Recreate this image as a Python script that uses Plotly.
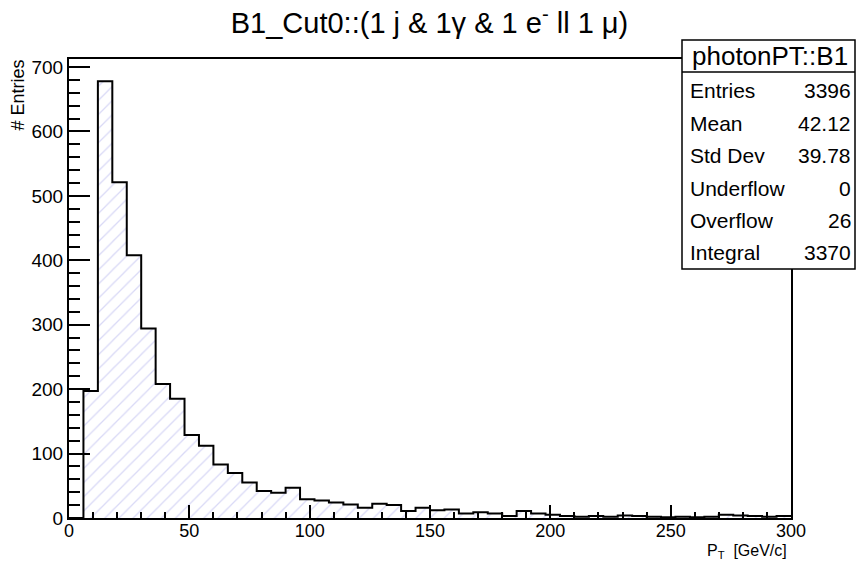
import plotly.graph_objects as go

# ---- data ----
bin_edges_start = 0
bin_width = 6
counts = [0, 197, 678, 521, 408, 294, 208, 185, 129, 112,
          83, 70, 55, 42, 39, 47, 29, 27, 24, 21,
          16, 22, 20, 11, 16, 12, 13, 7, 9, 7,
          3, 11, 7, 5, 3, 2, 3, 2, 4, 3,
          2, 1, 2, 1, 2, 5, 4, 3, 2, 3]
x_tick_vals = [0, 50, 100, 150, 200, 250, 300]
y_tick_vals = [0, 100, 200, 300, 400, 500, 600, 700]
title_text = "B1_Cut0::(1 j & 1γ & 1 e<sup>-</sup> ll 1 μ)"
stats_title = "photonPT::B1"
stats_labels = ["Entries", "Mean", "Std Dev", "Underflow", "Overflow", "Integral"]
stats_values = ["3396", "42.12", "39.78", "0", "26", "3370"]

centers = [bin_edges_start + bin_width * (i + 0.5) for i in range(len(counts))]
edges = [bin_edges_start + bin_width * i for i in range(len(counts) + 1)]
step_y = counts + [counts[-1]]

FONT = "Liberation Sans, Arial, Helvetica, sans-serif"
W, H = 859, 561
L, R, T, B = 69, 791, 59, 518

def px(x):
    return (x - L) / (R - L)

def py(y):
    return (B - y) / (B - T)

fig = go.Figure()
fig.add_trace(go.Bar(
    x=centers, y=counts, width=bin_width,
    marker=dict(color="white", line=dict(width=0),
                pattern=dict(shape="/", fgcolor="#b4b4ee", bgcolor="white",
                             size=10, solidity=0.13, fillmode="overlay")),
    showlegend=False, hoverinfo="skip"))
fig.add_trace(go.Scatter(
    x=edges, y=step_y, mode="lines", line=dict(color="black", width=2, shape="hv"),
    showlegend=False, hoverinfo="skip"))

fig.update_layout(
    width=W, height=H,
    margin=dict(l=L, r=W - R, t=T, b=H - B, pad=0),
    paper_bgcolor="white", plot_bgcolor="white",
    bargap=0,
    font=dict(family=FONT, color="black", size=19),
    title=dict(text=title_text, x=0.5, xref="container", xanchor="center",
               y=1 - 23 / H, yref="container", yanchor="middle",
               font=dict(family=FONT, size=29, color="black")),
)
fig.update_xaxes(
    range=[0, 300], tickvals=x_tick_vals, ticks="inside", ticklen=13, tickwidth=1.5,
    tickcolor="black", showgrid=False, zeroline=False,
    showline=True, linecolor="black", linewidth=2, mirror=True,
    minor=dict(ticks="inside", ticklen=6, dtick=10, tickwidth=1.5, tickcolor="black", showgrid=False),
    tickfont=dict(size=18, family=FONT), ticklabelstandoff=-5,
)
fig.update_yaxes(
    range=[0, 712.4], tickvals=y_tick_vals, ticks="inside", ticklen=21, tickwidth=1.5,
    tickcolor="black", showgrid=False, zeroline=False,
    showline=True, linecolor="black", linewidth=2, mirror=True,
    minor=dict(ticks="inside", ticklen=11, dtick=20, tickwidth=1.5, tickcolor="black", showgrid=False),
    tickfont=dict(size=19, family=FONT),
)

# axis titles
fig.add_annotation(text="# Entries", xref="paper", yref="paper",
                   x=px(18), y=py(57), xanchor="center", yanchor="top",
                   textangle=-90, showarrow=False, font=dict(size=18, family=FONT))
fig.add_annotation(text="P<sub>T</sub>  [GeV/c]", xref="paper", yref="paper",
                   x=px(789), y=py(551), xanchor="right", yanchor="middle",
                   showarrow=False, font=dict(size=16, family=FONT))

# stats box
bx0, bx1, by0, by1, bsep = 682, 855, 40, 269, 72
fig.add_shape(type="rect", xref="paper", yref="paper",
              x0=px(bx0), x1=px(bx1), y0=py(by1), y1=py(by0),
              fillcolor="white", line=dict(color="black", width=1.5), layer="above")
fig.add_shape(type="line", xref="paper", yref="paper",
              x0=px(bx0), x1=px(bx1), y0=py(bsep), y1=py(bsep),
              line=dict(color="black", width=1.5), layer="above")
fig.add_annotation(text=stats_title, xref="paper", yref="paper",
                   x=px((bx0 + bx1) / 2 + 1), y=py(56), xanchor="center", yanchor="middle",
                   showarrow=False, font=dict(size=26, family=FONT))
row_y = [90, 123, 156, 188, 220, 252]
for lab, val, yy in zip(stats_labels, stats_values, row_y):
    fig.add_annotation(text=lab, xref="paper", yref="paper", x=px(688), y=py(yy),
                       xanchor="left", yanchor="middle", showarrow=False,
                       font=dict(size=21, family=FONT))
    fig.add_annotation(text=val, xref="paper", yref="paper", x=px(853), y=py(yy),
                       xanchor="right", yanchor="middle", showarrow=False,
                       font=dict(size=21, family=FONT))

fig.write_html("out.html")
